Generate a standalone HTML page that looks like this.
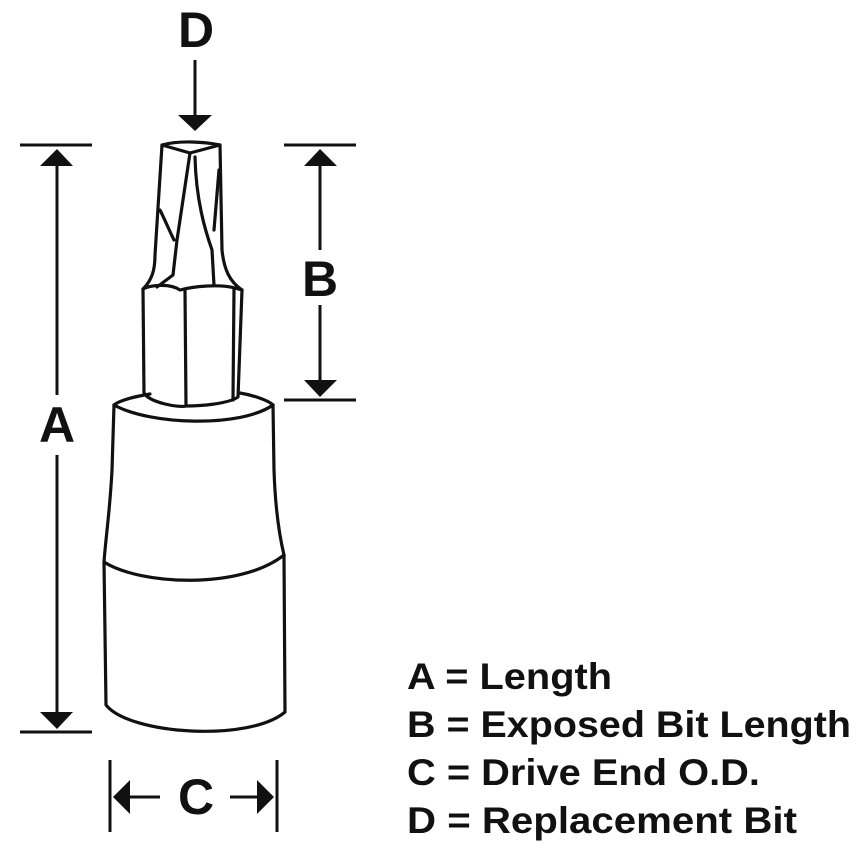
<!DOCTYPE html>
<html><head><meta charset="utf-8"><style>html,body{margin:0;padding:0;background:#fff}svg{display:block}</style></head>
<body>
<svg width="864" height="855" viewBox="0 0 864 855" xmlns="http://www.w3.org/2000/svg">
<g fill="none" stroke="#111" stroke-width="3.2" stroke-linejoin="round" stroke-linecap="round">
<path d="M114,405 L112,470 C110,510 106,535 104,562 L106,705 C130,735 250,742 285,712 L284,555 C278,530 275,500 274,470 L273,405"/>
<path d="M114,405 C150,425 240,428 273,405"/>
<path d="M114,405 C120,400 138,396 150,394 M273,405 C268,400 252,395 240,393"/>
<path d="M104,562 C140,585 240,590 284,555"/>
<path d="M143,289 L144,393 C150,403 180,408 186,406 C200,406 228,404 238,397 L242,290"/>
<path d="M143,289 C150,285 170,283 180,290 C195,286 220,284 235,288 L242,290"/>
<path d="M185,291 L186,406 M234,289 L233,400"/>
<path d="M143,289 C152,280 155,270 155,255 L162,145 C180,140 205,142 220,145 L222,250 C224,270 230,282 242,290"/>
<path d="M162,145 L190,153 L220,145 M190,153 L177,240 L173,275 L157,287 M195,157 C196,200 205,230 212,250 L214,285 M160,210 C165,220 170,232 174,240 M219,170 L214,230"/>
</g>
<g stroke="#111" stroke-width="3" fill="#111">
<line x1="20" y1="145" x2="92" y2="145"/><line x1="20" y1="732" x2="92" y2="732"/>
<line x1="57" y1="160" x2="57" y2="395"/><line x1="57" y1="455" x2="57" y2="718"/>
<path d="M40,166 L57,149 L73,166Z" stroke="none"/><path d="M40,712 L57,729 L73,712Z" stroke="none"/>
<line x1="284" y1="145" x2="356" y2="145"/><line x1="284" y1="400" x2="356" y2="400"/>
<line x1="320" y1="160" x2="320" y2="250"/><line x1="320" y1="305" x2="320" y2="385"/>
<path d="M304,166 L320,149 L337,166Z" stroke="none"/><path d="M304,380 L320,397 L337,380Z" stroke="none"/>
<line x1="110" y1="760" x2="110" y2="832"/><line x1="277" y1="760" x2="277" y2="832"/>
<line x1="125" y1="797" x2="160" y2="797"/><line x1="230" y1="797" x2="262" y2="797"/>
<path d="M130,780 L113,797 L130,814Z" stroke="none"/><path d="M257,780 L274,797 L257,814Z" stroke="none"/>
<line x1="195" y1="60" x2="195" y2="118"/>
<path d="M178,115 L195,131 L212,115Z" stroke="none"/>
</g>
<g font-family="Liberation Sans, Arial, sans-serif" font-weight="bold" fill="#111">
<text x="196" y="47" font-size="50" text-anchor="middle">D</text>
<text x="57" y="442" font-size="50" text-anchor="middle">A</text>
<text x="320" y="296" font-size="50" text-anchor="middle">B</text>
<text x="196" y="814" font-size="50" text-anchor="middle">C</text>
<g font-size="37">
<text x="407" y="689" textLength="205" lengthAdjust="spacingAndGlyphs">A = Length</text>
<text x="407" y="737" textLength="444" lengthAdjust="spacingAndGlyphs">B = Exposed Bit Length</text>
<text x="407" y="785" textLength="353" lengthAdjust="spacingAndGlyphs">C = Drive End O.D.</text>
<text x="407" y="833" textLength="390" lengthAdjust="spacingAndGlyphs">D = Replacement Bit</text>
</g>
</g>
</svg>
</body></html>
